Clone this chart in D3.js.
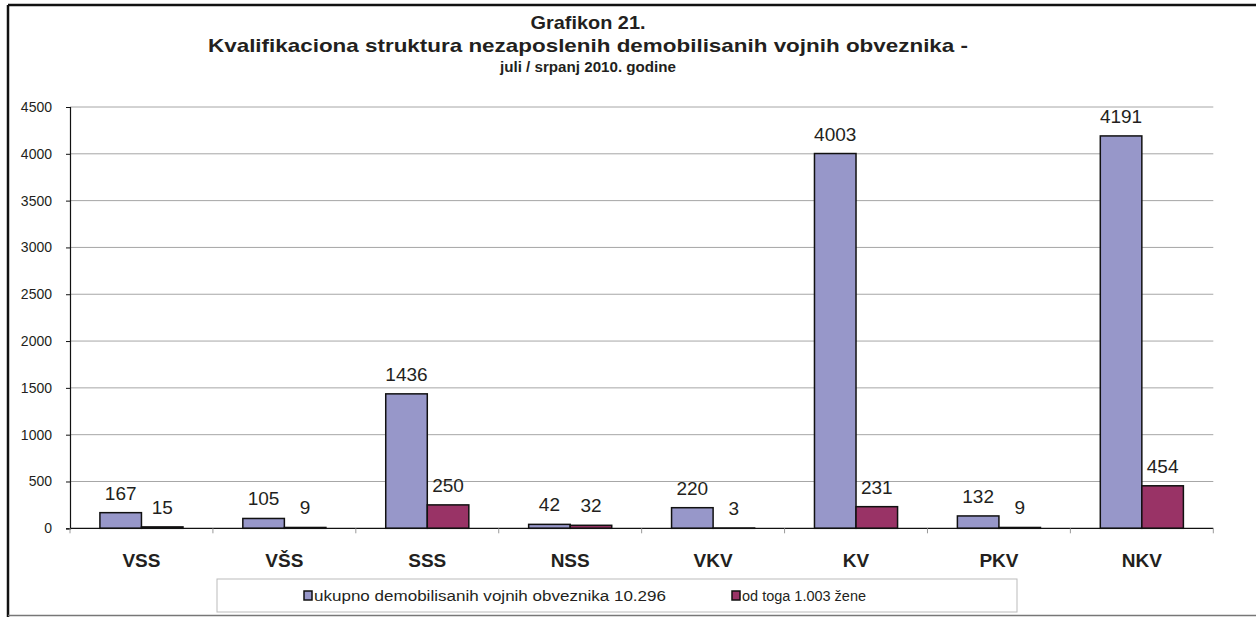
<!doctype html>
<html>
    <head>
        <meta charset="utf-8">
        <title>Grafikon 21</title>
        <script src="https://d3js.org/d3.v7.min.js"></script>
        <style>
            body { margin: 0; background: #fff; }
            text { font-family: "Liberation Sans", Arial, sans-serif; fill: #231f20; }
        </style>
    </head>

    <body>
        <div id="my_dataviz"></div>
        <script>
            // data
            var categories = ["VSS", "VŠS", "SSS", "NSS", "VKV", "KV", "PKV", "NKV"];
            var ukupno = [167, 105, 1436, 42, 220, 4003, 132, 4191];
            var zene = [15, 9, 250, 32, 3, 231, 9, 454];
            var seriesNames = ["ukupno demobilisanih vojnih obveznika 10.296", "od toga 1.003 žene"];
            var yTicks = [0, 500, 1000, 1500, 2000, 2500, 3000, 3500, 4000, 4500];
            var colors = ["#9797c9", "#993366"];

            var W = 1256, H = 617;
            var margin = {top: 107, right: 43, bottom: 89, left: 70},
                width = 1213.3 - margin.left,
                height = 528.3 - margin.top;

            var root = d3.select("#my_dataviz")
                .append("svg")
                .attr("width", W)
                .attr("height", H);

            // outer frame (clipped on right and bottom like the original)
            root.append("line")
                .attr("x1", 8).attr("x2", W).attr("y1", 5).attr("y2", 5)
                .attr("stroke", "#111").attr("stroke-width", 2.5);
            root.append("line")
                .attr("x1", 8).attr("x2", 8).attr("y1", 5).attr("y2", H)
                .attr("stroke", "#111").attr("stroke-width", 2.5);
            root.append("line")
                .attr("x1", 8).attr("x2", W).attr("y1", 615.5).attr("y2", 615.5)
                .attr("stroke", "#777").attr("stroke-width", 1.5);

            // titles
            var cx = 588;
            root.append("text")
                .attr("x", cx).attr("y", 29)
                .attr("text-anchor", "middle")
                .attr("font-weight", "bold").attr("font-size", 18.5)
                .attr("textLength", 115).attr("lengthAdjust", "spacingAndGlyphs")
                .text("Grafikon 21.");
            root.append("text")
                .attr("x", cx).attr("y", 52)
                .attr("text-anchor", "middle")
                .attr("font-weight", "bold").attr("font-size", 18.5)
                .attr("textLength", 760).attr("lengthAdjust", "spacingAndGlyphs")
                .text("Kvalifikaciona struktura nezaposlenih demobilisanih vojnih obveznika -");
            root.append("text")
                .attr("x", cx).attr("y", 72)
                .attr("text-anchor", "middle")
                .attr("font-weight", "bold").attr("font-size", 14)
                .attr("textLength", 176).attr("lengthAdjust", "spacingAndGlyphs")
                .text("juli / srpanj 2010. godine");

            var svg = root.append("g")
                .attr("transform", "translate(" + margin.left + "," + margin.top + ")");

            // scales
            var x0 = d3.scaleBand()
                .domain(categories)
                .range([0, width])
                .padding(0);
            var x1 = d3.scaleBand()
                .domain([0, 1])
                .range([0, x0.bandwidth()])
                .paddingInner(0)
                .paddingOuter(0.72);
            var y = d3.scaleLinear()
                .domain([0, 4500])
                .range([height, 0]);

            // gridlines
            svg.append("g")
                .selectAll("line")
                .data(yTicks.slice(1))
                .enter().append("line")
                .attr("x1", 0).attr("x2", width)
                .attr("y1", function(d) { return y(d); })
                .attr("y2", function(d) { return y(d); })
                .attr("stroke", "#a6a6a6").attr("stroke-width", 1);

            // Y axis
            var yAxis = svg.append("g")
                .call(d3.axisLeft(y).tickValues(yTicks).tickSize(4).tickPadding(14).tickFormat(d3.format("d")));
            yAxis.select(".domain").attr("stroke", "#111").attr("stroke-width", 1.2);
            yAxis.selectAll(".tick line").attr("stroke", "#111");
            yAxis.selectAll("text")
                .attr("font-size", 14)
                .attr("font-family", "Liberation Sans, Arial, sans-serif")
                .attr("fill", "#231f20");

            // bars
            var rows = categories.map(function(c, i) { return {cat: c, vals: [ukupno[i], zene[i]]}; });
            var groups = svg.selectAll(".grp")
                .data(rows)
                .enter().append("g")
                .attr("class", "grp")
                .attr("transform", function(d) { return "translate(" + x0(d.cat) + ",0)"; });

            groups.selectAll("rect")
                .data(function(d) { return d.vals; })
                .enter().append("rect")
                .attr("x", function(d, i) { return x1(i); })
                .attr("y", function(d) { return y(d); })
                .attr("width", x1.bandwidth())
                .attr("height", function(d) { return height - y(d); })
                .attr("fill", function(d, i) { return colors[i]; })
                .attr("stroke", "#111").attr("stroke-width", 1.5);

            groups.selectAll(".val")
                .data(function(d) { return d.vals; })
                .enter().append("text")
                .attr("class", "val")
                .attr("x", function(d, i) { return x1(i) + x1.bandwidth() / 2; })
                .attr("y", function(d) { return y(d) - 13; })
                .attr("text-anchor", "middle")
                .attr("font-size", 19)
                .text(function(d) { return d; });

            // X axis
            svg.append("line")
                .attr("x1", 0).attr("x2", width).attr("y1", height).attr("y2", height)
                .attr("stroke", "#111").attr("stroke-width", 1.2);
            svg.append("g")
                .selectAll("line")
                .data(categories.concat(["end"]))
                .enter().append("line")
                .attr("x1", function(d, i) { return i * x0.step(); })
                .attr("x2", function(d, i) { return i * x0.step(); })
                .attr("y1", height).attr("y2", height + 5)
                .attr("stroke", "#999");
            svg.append("g")
                .selectAll("text")
                .data(categories)
                .enter().append("text")
                .attr("x", function(d) { return x0(d) + x0.bandwidth() / 2; })
                .attr("y", height + 39)
                .attr("text-anchor", "middle")
                .attr("font-weight", "bold").attr("font-size", 19)
                .text(function(d) { return d; });

            // legend
            var legend = root.append("g").attr("transform", "translate(217,579)");
            legend.append("rect")
                .attr("x", 0).attr("y", 0).attr("width", 800).attr("height", 33)
                .attr("fill", "#fff").attr("stroke", "#bbb").attr("stroke-width", 1);
            var legX = [87, 515];
            var legLen = [352, 124];
            seriesNames.forEach(function(name, i) {
                legend.append("rect")
                    .attr("x", legX[i]).attr("y", 12)
                    .attr("width", 8).attr("height", 9)
                    .attr("fill", colors[i]).attr("stroke", "#111").attr("stroke-width", 1.5);
                legend.append("text")
                    .attr("x", legX[i] + 10).attr("y", 22)
                    .attr("font-size", 15.5)
                    .attr("textLength", legLen[i]).attr("lengthAdjust", "spacingAndGlyphs")
                    .text(name);
            });
        </script>
    </body>
</html>
